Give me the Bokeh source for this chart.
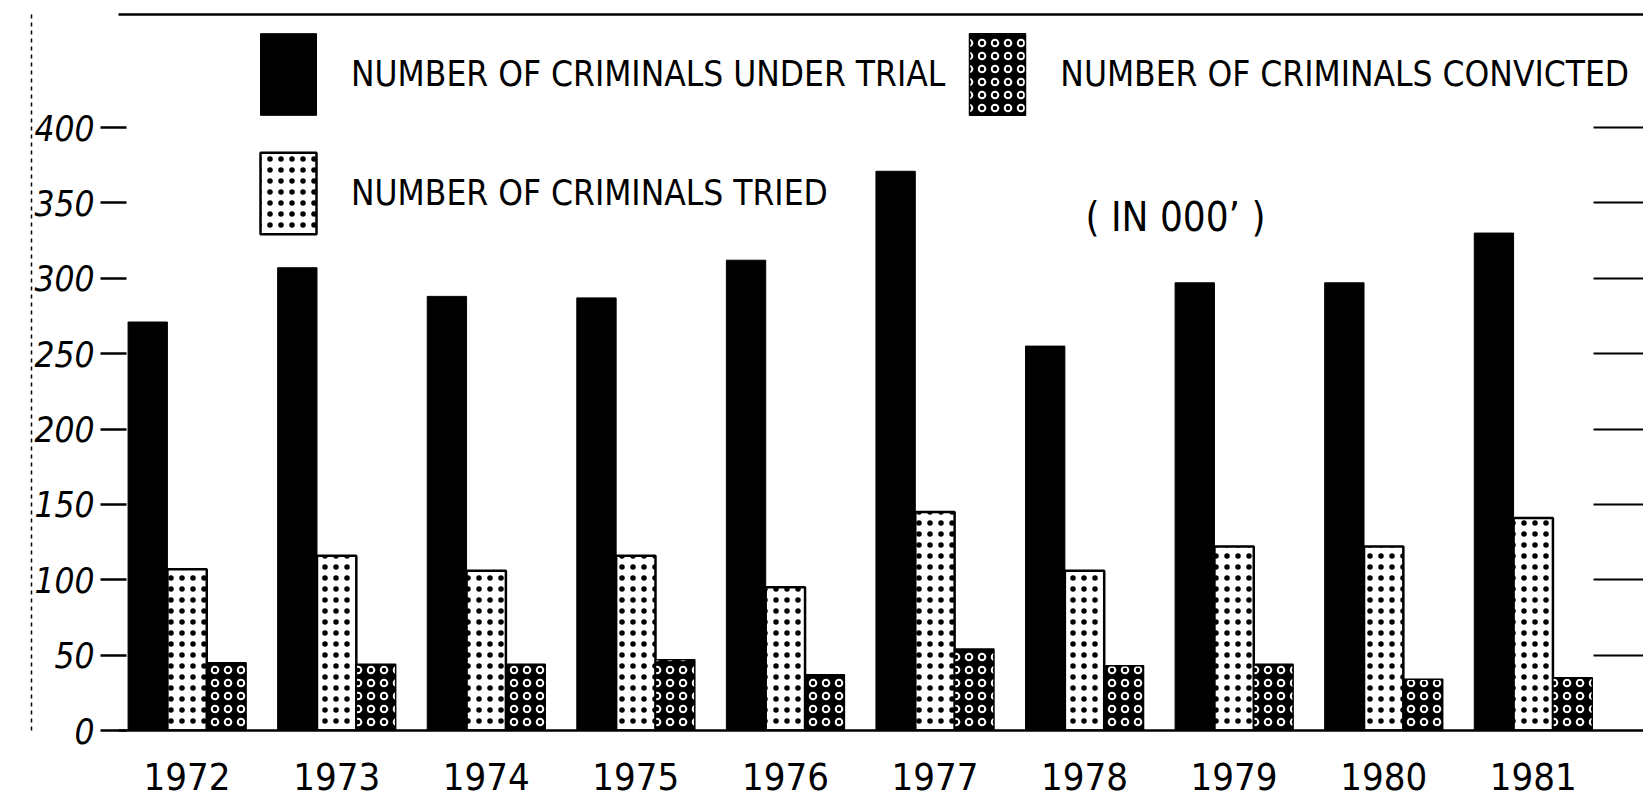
from bokeh.plotting import figure
from bokeh.models import (ColumnDataSource, Range1d, LinearAxis, FixedTicker, Legend, LegendItem,
                          Label, CustomJSTickFormatter)
from bokeh.transform import dodge
from bokeh.embed import file_html
from bokeh.resources import INLINE

years = [1972, 1973, 1974, 1975, 1976, 1977, 1978, 1979, 1980, 1981]
under_trial = [271, 307, 288, 287, 312, 371, 255, 297, 297, 330]
tried = [107, 116, 106, 116, 95, 145, 106, 122, 122, 141]
convicted = [45, 44, 44, 47, 37, 54, 43, 44, 34, 35]
y_ticks = [0, 50, 100, 150, 200, 250, 300, 350, 400]
right_ticks = [50, 100, 150, 200, 250, 300, 350, 400]
labels = ["NUMBER OF CRIMINALS UNDER TRIAL", "NUMBER OF CRIMINALS TRIED",
          "NUMBER OF CRIMINALS CONVICTED"]
unit_note = "( IN 000\u2019 )"

src = ColumnDataSource(dict(year=years, under_trial=under_trial, tried=tried, convicted=convicted))

BW = 0.263
FONT = "DejaVu Sans Condensed"

p = figure(width=1643, height=803, output_backend="svg", toolbar_location=None,
           x_range=Range1d(1971.5415, 1981.737), y_range=Range1d(0, 475),
           min_border_left=118, min_border_right=0, min_border_top=14, min_border_bottom=73)
p.outline_line_color = None
p.grid.visible = False
p.background_fill_color = "white"
p.border_fill_color = "white"

r1 = p.vbar(x=dodge("year", -BW, range=p.x_range), top="under_trial", width=BW, source=src,
            fill_color="black", line_color="black", line_width=1)
r2 = p.vbar(x=dodge("year", 0, range=p.x_range), top="tried", width=BW, source=src,
            fill_color="white", line_color="black", line_width=2.5,
            hatch_pattern="dot", hatch_color="black", hatch_scale=11, hatch_weight=3)
r3 = p.vbar(x=dodge("year", BW, range=p.x_range), top="convicted", width=BW, source=src,
            fill_color="black", line_color="black", line_width=1.5,
            hatch_pattern="ring", hatch_color="white", hatch_scale=13, hatch_weight=2)

# x axis
xa = p.xaxis[0]
xa.ticker = FixedTicker(ticks=years)
xa.major_tick_line_color = None
xa.minor_tick_line_color = None
xa.axis_line_width = 2.5
xa.axis_line_color = "black"
xa.major_label_text_font = FONT
xa.major_label_text_font_size = "38px"
xa.major_label_text_color = "black"
xa.major_label_standoff = 26

# left y axis
ya = p.yaxis[0]
ya.ticker = FixedTicker(ticks=y_ticks)
ya.axis_line_color = None
ya.minor_tick_line_color = None
ya.major_tick_out = 18
ya.major_tick_in = 8
ya.major_tick_line_width = 2.5
ya.major_tick_line_color = "black"
ya.major_label_text_font = FONT
ya.major_label_text_font_style = "italic"
ya.major_label_text_font_size = "35px"
ya.major_label_text_color = "black"
ya.major_label_standoff = 6

# dashed left frame line
fa = LinearAxis(ticker=FixedTicker(ticks=[]), axis_line_dash="4 4", axis_line_width=1.5,
                axis_line_color="black", major_tick_line_color=None, minor_tick_line_color=None)
p.add_layout(fa, "left")

# top frame line
ta = LinearAxis(ticker=FixedTicker(ticks=[]), axis_line_width=2.5,
                axis_line_color="black", major_tick_line_color=None, minor_tick_line_color=None)
p.add_layout(ta, "above")

# right-side tick lines
ra = LinearAxis(ticker=FixedTicker(ticks=right_ticks), axis_line_color=None,
                major_tick_in=50, major_tick_out=0, major_tick_line_width=2,
                major_tick_line_color="black", minor_tick_line_color=None,
                formatter=CustomJSTickFormatter(code="return ''"), major_label_standoff=0)
p.add_layout(ra, "right")

legend = Legend(items=[LegendItem(label=labels[0], renderers=[r1]),
                       LegendItem(label=labels[1], renderers=[r2]),
                       LegendItem(label=labels[2], renderers=[r3])],
                location=(135, 486), nrows=2, orientation="vertical",
                glyph_width=70, glyph_height=102, label_height=102, label_standoff=28,
                spacing=17, padding=0, margin=0,
                border_line_color=None, background_fill_alpha=0,
                label_text_font=FONT, label_text_font_size="35px", label_text_color="black")
p.add_layout(legend, "center")

p.add_layout(Label(x=967, y=514, x_units="screen", y_units="screen", text=unit_note,
                   text_font=FONT, text_font_size="40px", text_baseline="middle",
                   text_color="black"))

open("out.html", "w").write(file_html(p, INLINE))
